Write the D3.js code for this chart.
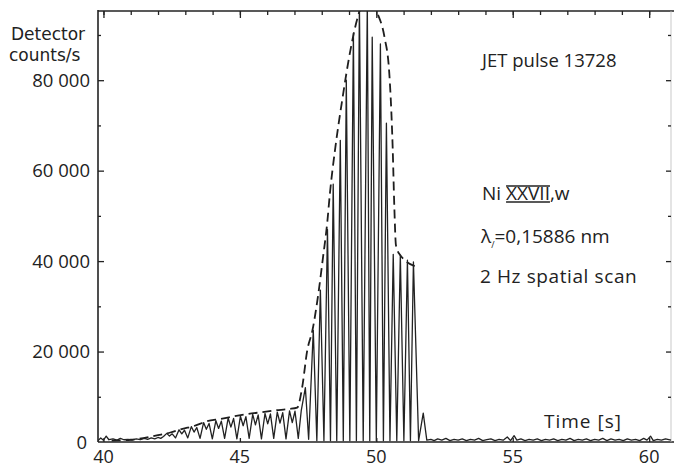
<!DOCTYPE html>
<html>
<head>
<meta charset="utf-8">
<script src="https://cdn.jsdelivr.net/npm/d3@7"></script>
<style>
    body { margin: 0; background: #fff; }
    svg text { font-family: "Open Sans", "DejaVu Sans", sans-serif; fill: #222; }
</style>
</head>
<body>
<div id="chart"></div>
<script>

// detector signal (time in s, counts/s)
var trace_t = [
    39.8, 39.9, 40.0, 40.1, 40.2, 40.35, 40.5, 40.62, 40.75, 40.9,
    41.05, 41.2, 41.35, 41.5, 41.62, 41.75, 41.88, 42.0, 42.1, 42.2,
    42.32, 42.42, 42.52, 42.64,
    42.77, 42.87, 42.97, 43.09,
    43.22, 43.32, 43.42, 43.54,
    43.67, 43.77, 43.87, 43.99,
    44.12, 44.22, 44.32, 44.44,
    44.57, 44.67, 44.77, 44.89,
    45.02, 45.12, 45.22, 45.34,
    45.47, 45.57, 45.67, 45.79,
    45.92, 46.02, 46.12, 46.24,
    46.37, 46.47, 46.57, 46.69,
    46.82, 46.92, 47.02, 47.14,
    47.25, 47.4, 47.52,
    47.69, 47.82, 47.95, 48.08, 48.21, 48.32, 48.42, 48.55,
    48.68, 48.79, 48.9, 49.03, 49.16, 49.27, 49.38, 49.52,
    49.67, 49.76, 49.85, 50.0, 50.15, 50.26, 50.37, 50.5,
    50.62, 50.75, 50.88, 51.01, 51.14, 51.25, 51.36, 51.55,
    51.72, 51.85,
    52.0, 52.12, 52.25, 52.4, 52.55, 52.7, 52.85, 53.0, 53.15, 53.3,
    53.45, 53.6, 53.75, 53.9, 54.05, 54.2, 54.35, 54.5, 54.65, 54.8,
    54.92, 55.05, 55.15, 55.3, 55.45, 55.6, 55.75, 55.9, 56.05, 56.2,
    56.35, 56.5, 56.65, 56.8, 56.95, 57.1, 57.25, 57.4, 57.55, 57.7,
    57.85, 58.0, 58.15, 58.3, 58.45, 58.6, 58.75, 58.9, 59.05, 59.2,
    59.35, 59.5, 59.65, 59.8, 59.92, 60.05, 60.15, 60.3, 60.45, 60.6, 60.8
];
var trace_counts = [
    300, 900, 400, 1300, 500, 700, 400, 800, 500, 600,
    400, 700, 500, 800, 600, 900, 700, 1000, 800, 1200,
    1900, 1300, 1800, 900,
    2700, 1800, 2600, 900,
    3400, 2200, 3200, 800,
    4300, 2800, 4100, 700,
    4700, 3000, 4600, 800,
    5300, 3300, 5200, 700,
    5700, 3600, 5600, 800,
    6100, 3800, 6000, 700,
    6300, 4000, 6200, 800,
    6600, 4200, 6500, 700,
    6900, 4300, 6800, 800,
    7000, 12000, 600,
    24700, 300, 33600, 300, 47000, 300, 57000, 300,
    66700, 300, 80000, 300, 90400, 300, 97000, 300,
    97000, 300, 89500, 300, 88000, 300, 70500, 300,
    41500, 300, 41300, 300, 40200, 300, 39800, 300,
    6400, 400,
    600, 300, 700, 400, 800, 300, 600, 400, 700, 300,
    600, 400, 800, 300, 500, 700, 300, 600, 400, 1100,
    300, 1400, 400, 700, 300, 600, 400, 700, 300, 600,
    400, 700, 300, 600, 400, 800, 300, 600, 400, 700,
    300, 600, 400, 800, 300, 700, 400, 600, 300, 700,
    400, 600, 300, 800, 400, 1300, 300, 600, 400, 700, 400
];

// dashed envelope
var env_t = [40.3, 41.0, 41.6, 42.0, 42.45, 42.9, 43.3, 43.8, 44.3, 44.8, 45.3, 45.8, 46.3, 46.8, 47.1,
    47.28, 47.47, 47.66, 47.88, 48.05, 48.2, 48.3, 48.5, 48.75, 49.05, 49.34, 49.65,
    50.04, 50.3, 50.47, 50.6, 50.66, 50.72, 50.88, 51.5];
var env_counts = [300, 500, 1000, 1500, 2100, 2900, 3500, 4600, 5100, 5700, 6200, 6600, 7000, 7300, 7600,
    12000, 20300, 24700, 33000, 41000, 48400, 55000, 65200, 75600, 86600, 94400, 98500,
    94800, 89500, 82000, 65000, 52000, 43500, 41300, 38700];

var x_labels = [40, 45, 50, 55, 60];
var x_minor = [40, 41, 42, 43, 44, 45, 46, 47, 48, 49, 50, 51, 52, 53, 54, 55, 56, 57, 58, 59, 60];
var y_labels = [0, 20000, 40000, 60000, 80000];
var y_minor = [10000, 30000, 50000, 70000, 90000];

var svg_w = 674, svg_h = 470;
var plot_l = 98, plot_r = 671, plot_t = 11, plot_b = 442;

var svg = d3.select("#chart")
    .append("svg")
    .attr("width", svg_w)
    .attr("height", svg_h);

svg.append("rect").attr("width", svg_w).attr("height", svg_h).style("fill", "#fff");

var x = d3.scaleLinear().domain([39.8, 60.8]).range([plot_l, plot_r]);
var y = d3.scaleLinear().domain([0, 95300]).range([plot_b, plot_t]);

var fmt = d3.formatLocale({decimal: ",", thousands: " ", grouping: [3], currency: ["", ""]}).format(",");

svg.append("clipPath").attr("id", "plot_clip")
    .append("rect")
    .attr("x", plot_l).attr("y", plot_t)
    .attr("width", plot_r - plot_l + 3).attr("height", plot_b - plot_t);

// frame
var frame = svg.append("g").style("stroke", "#222").style("fill", "none");
frame.append("line").attr("x1", plot_l).attr("x2", plot_l).attr("y1", plot_t - 1).attr("y2", plot_b)
    .style("stroke-width", 1.6);
frame.append("line").attr("x1", plot_l).attr("x2", svg_w).attr("y1", plot_t).attr("y2", plot_t)
    .style("stroke-width", 1.5);
frame.append("line").attr("x1", plot_l).attr("x2", svg_w).attr("y1", plot_b).attr("y2", plot_b)
    .style("stroke-width", 1.4);
frame.append("line").attr("x1", plot_r).attr("x2", plot_r).attr("y1", plot_t).attr("y2", plot_b)
    .style("stroke", "#bbb").style("stroke-width", 0.8);

function tick_axis(axis, tx, ty) {
    var g = svg.append("g")
        .attr("transform", "translate(" + tx + "," + ty + ")")
        .call(axis.tickFormat(""));
    g.select(".domain").remove();
    g.selectAll(".tick line").style("stroke", "#222").style("stroke-width", 1.3);
    return g;
}

// ticks, all pointing into the plot
tick_axis(d3.axisRight(y).tickValues(y_minor).tickSizeOuter(0).tickSize(3), plot_l, 0);
tick_axis(d3.axisRight(y).tickValues(y_labels.slice(1)).tickSizeOuter(0).tickSize(6), plot_l, 0);
tick_axis(d3.axisLeft(y).tickValues(y_minor).tickSizeOuter(0).tickSize(3), plot_r, 0);
tick_axis(d3.axisLeft(y).tickValues(y_labels.slice(1)).tickSizeOuter(0).tickSize(5), plot_r, 0);
tick_axis(d3.axisBottom(x).tickValues(x_minor).tickSizeOuter(0).tickSize(4), 0, plot_t);
tick_axis(d3.axisBottom(x).tickValues(x_labels).tickSizeOuter(0).tickSize(7), 0, plot_t);
tick_axis(d3.axisTop(x).tickValues(x_labels).tickSizeOuter(0).tickSize(4), 0, plot_b);

// data
var scan = trace_t.map(function (t, i) { return [t, trace_counts[i]]; });
var env = env_t.map(function (t, i) { return [t, env_counts[i]]; });

var plot = svg.append("g").attr("clip-path", "url(#plot_clip)");

plot.append("path")
    .datum(env)
    .attr("d", d3.line().x(function (d) { return x(d[0]); }).y(function (d) { return y(d[1]); })
        .curve(d3.curveMonotoneX))
    .style("fill", "none")
    .style("stroke", "#1e1e1e")
    .style("stroke-width", 1.8)
    .style("stroke-dasharray", "9,5");

plot.append("path")
    .datum(scan)
    .attr("d", d3.line().x(function (d) { return x(d[0]); }).y(function (d) { return y(d[1]); }))
    .style("fill", "none")
    .style("stroke", "#222")
    .style("stroke-width", 1.3)
    .style("stroke-linejoin", "round");

// tick labels
svg.append("g").selectAll("text")
    .data(y_labels)
    .enter()
    .append("text")
    .attr("x", function (d) { return d == 0 ? 87 : 90; })
    .attr("y", function (d) { return y(d); })
    .attr("dy", "0.36em")
    .attr("text-anchor", "end")
    .style("font-size", "18.5px")
    .text(function (d) { return fmt(d); });

svg.append("g").selectAll("text")
    .data(x_labels)
    .enter()
    .append("text")
    .attr("x", function (d) { return x(d); })
    .attr("y", 463)
    .attr("text-anchor", "middle")
    .style("font-size", "18px")
    .text(function (d) { return d; });

// titles and notes
svg.append("text").attr("x", 11).attr("y", 40)
    .style("font-family", "'DejaVu Sans', sans-serif").style("font-size", "17px").text("Detector");
svg.append("text").attr("x", 9).attr("y", 61)
    .style("font-family", "'DejaVu Sans', sans-serif").style("font-size", "17px").text("counts/s");

svg.append("text").attr("x", 583).attr("y", 428).attr("text-anchor", "middle")
    .style("font-size", "19px").style("letter-spacing", "1px").text("Time [s]");

svg.append("text").attr("x", 482).attr("y", 67).style("font-size", "18.5px").text("JET pulse 13728");

var ion = svg.append("text").attr("x", 482).attr("y", 200).style("font-size", "19px");
ion.append("tspan").text("Ni ");
ion.append("tspan").text("XXVII");
ion.append("tspan").text(",w");
var n = ion.node();
var r0 = n.getStartPositionOfChar(3).x, r1 = n.getEndPositionOfChar(7).x;
svg.append("line").attr("x1", r0).attr("x2", r1).attr("y1", 186).attr("y2", 186)
    .style("stroke", "#222").style("stroke-width", 1.3);
svg.append("line").attr("x1", r0).attr("x2", r1).attr("y1", 202).attr("y2", 202)
    .style("stroke", "#222").style("stroke-width", 1.3);

var lam = svg.append("text").attr("x", 481).attr("y", 243).style("font-size", "19px");
lam.append("tspan").text("λ");
lam.append("tspan").attr("dy", 5).style("font-size", "9px").text("/");
lam.append("tspan").attr("dy", -5).text("=0,15886 nm");

svg.append("text").attr("x", 480).attr("y", 283).style("font-size", "19px")
    .style("letter-spacing", "0.6px").text("2 Hz spatial scan");

</script>
</body>
</html>
